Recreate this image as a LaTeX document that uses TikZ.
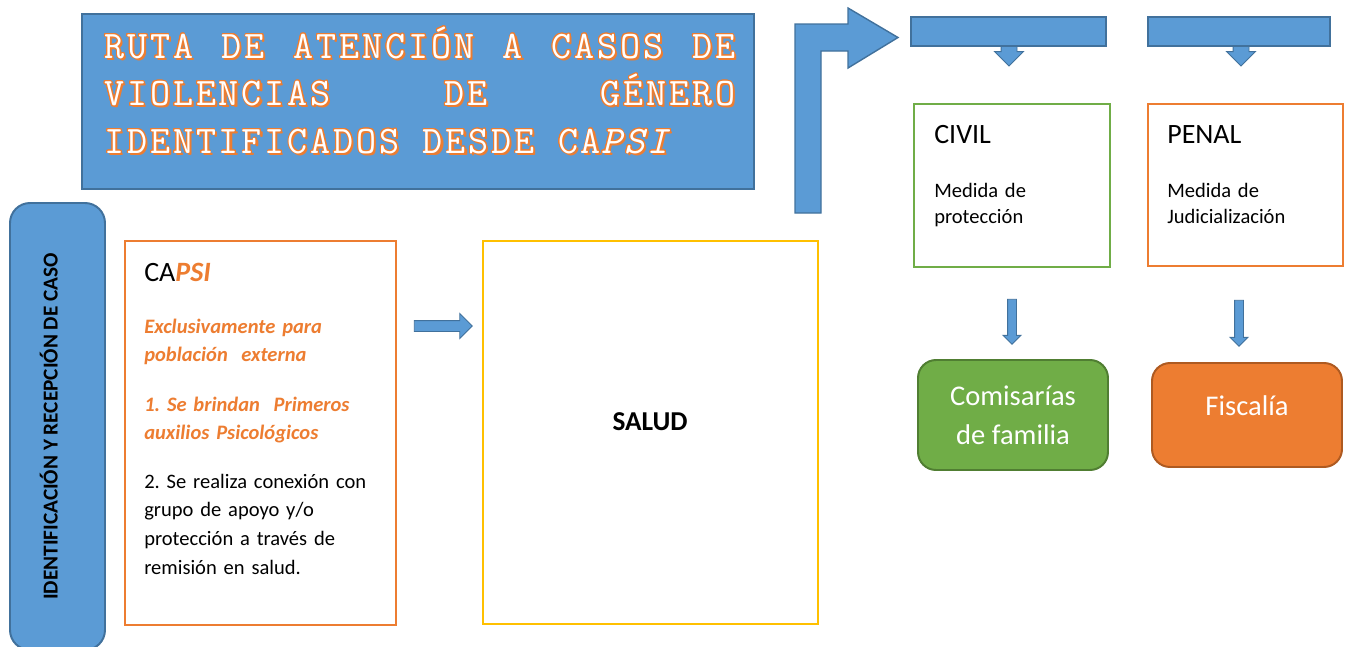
\documentclass[tikz,border=0pt]{standalone}
\usepackage{fontspec}
\setmainfont{Carlito}
\newfontfamily\monofam{Latin Modern Mono}[LetterSpace=7.4]
\usepackage[copies]{contour}
\usetikzlibrary{shapes.arrows,positioning}
\definecolor{bluehue}{RGB}{91, 155, 213}
\definecolor{blueedge}{RGB}{65, 113, 156}
\definecolor{orangehue}{RGB}{237, 125, 49}
\definecolor{orangeedge}{RGB}{174, 90, 33}
\definecolor{greenhue}{RGB}{112, 173, 71}
\definecolor{greenedge}{RGB}{80, 126, 50}
\definecolor{yellowhue}{RGB}{255, 192, 0}
\newlength{\pxu}
\setlength{\pxu}{0.025cm}
\contourlength{0.6pt}
\newcommand{\titleword}[1]{\hbox{\rlap{\kern1.5pt\lower1.5pt\hbox{\textcolor{orangehue}{#1}}}\contour{orangehue}{#1}}}
\newcommand{\titlegap}{\hspace*{23.3\pxu}}
\tikzset{
    bluebox/.style={draw=blueedge, fill=bluehue, line width=1.4pt},
    framebox/.style={draw=#1, fill=white, line width=1.4pt},
    roundbox/.style 2 args={draw=#2, fill=#1, line width=1.4pt, rounded corners=0.45cm, text=white, align=center, font=\fontsize{20.3pt}{27.7pt}\selectfont},
    sized/.style 2 args={minimum width=#1*\pxu, minimum height=#2*\pxu, inner sep=0pt},
    midbase/.style={text height=#1*\pxu, text depth=#1*\pxu},
    headtext/.style={font=\fontsize{19.9pt}{24pt}\selectfont, anchor=base west, inner sep=0pt},
    bodytext/.style={font=\fontsize{14.6pt}{20.4pt}\selectfont, anchor=base west, inner sep=0pt, align=left, text width=#1*\pxu},
    accenttext/.style={bodytext=#1, text=orangehue, font=\fontsize{14.6pt}{20.4pt}\selectfont\bfseries\itshape},
    blockarrow/.style={single arrow, draw=blueedge, fill=bluehue, line width=0.7pt, single arrow head indent=0pt},
    arrowsize/.style n args={3}{minimum height=#1*\pxu, inner sep=#2*\pxu, single arrow head extend=#3*\pxu},
    bendarrow/.style={draw=blueedge, fill=bluehue, line width=1pt},
}
\begin{document}
\frenchspacing
\begin{tikzpicture}[x=0.025cm, y=-0.025cm]
    \useasboundingbox (0,0) rectangle (1350,646);
    \node[bluebox, sized={672}{175}] (title) at (418,101.5) {};
    \node[
        anchor=base west,
        inner sep=0pt,
        text=white,
        align=left,
        text width=645*\pxu,
        font=\monofam\bfseries\fontsize{27.7pt}{33.8pt}\selectfont,
    ] (titletext) at (104,58) {
        \makebox[631\pxu][l]{\titleword{RUTA}\hfill\titleword{DE}\hfill\titleword{ATENCIÓN}\hfill\titleword{A}\hfill\titleword{CASOS}\hfill\titleword{DE}}\\
        \makebox[631\pxu][l]{\titleword{VIOLENCIAS}\hfill\titleword{DE}\hfill\titleword{GÉNERO}}\\
        \makebox[631\pxu][l]{\titleword{IDENTIFICADOS}\titlegap\titleword{DESDE}\titlegap\titleword{CA\textit{PSI}}}
    };
    \node[
        bluebox,
        sized={447}{95},
        rounded corners=0.5cm,
        rotate=90,
        midbase=10,
        font=\bfseries\fontsize{15.1pt}{17pt}\selectfont,
    ] (intake) at (57.5,426.5) {IDENTIFICACIÓN Y RECEPCIÓN DE CASO};
    \node[framebox=orangehue, sized={271}{384}] (capsi) at (260.5,433) {};
    \node[headtext] (capsihead) at (144,281) {CA\textcolor{orangehue}{\bfseries\itshape PSI}};
    \node[accenttext=240] (capsiscope) at (144,333) {Exclusivamente para\\población\ \ externa};
    \node[accenttext=240] (capsistep1) at (144,411) {1. Se brindan\ \ Primeros\\auxilios Psicológicos};
    \node[bodytext=240] (capsistep2) at (144,488) {2. Se realiza conexión con\\grupo de apoyo y/o\\protección a través de\\remisión en salud.};
    \node[blockarrow, arrowsize={58}{5}{7}] (tosalud) at (440.5,326) {};
    \node[framebox=yellowhue, sized={335}{383}] (salud) at (650.5,432.5) {};
    \node[font=\bfseries\fontsize{19.4pt}{22pt}\selectfont] (saludtext) at (650,422) {SALUD};
    \draw[bendarrow] (795,213) -- (795,24) -- (848,24) -- (848,8) -- (898,37.5)
        -- (848,68) -- (848,51) -- (821,51) -- (821,213) -- cycle;
    \node[blockarrow, arrowsize={32}{7.5}{6.5}, shape border rotate=270] (civilcue) at (1009,46) {};
    \node[blockarrow, arrowsize={32}{7.5}{6.5}, shape border rotate=270] (penalcue) at (1241,46) {};
    \node[bluebox, line width=1pt, sized={195}{29}] (civiltop) at (1008.5,31.5) {};
    \node[bluebox, line width=1pt, sized={182}{29}] (penaltop) at (1239,31.5) {};
    \node[framebox=greenhue, sized={196}{163}] (civil) at (1012,185.5) {};
    \node[headtext] (civilhead) at (934,143) {CIVIL};
    \node[bodytext=170, font=\fontsize{14.6pt}{18.5pt}\selectfont] (civilnote) at (934,197) {Medida de\\protección};
    \node[framebox=orangehue, sized={195}{162}] (penal) at (1245.5,185) {};
    \node[headtext] (penalhead) at (1167,143) {PENAL};
    \node[bodytext=170, font=\fontsize{14.6pt}{18.5pt}\selectfont] (penalnote) at (1167,197) {Medida de\\Judicialización};
    \node[blockarrow, arrowsize={45}{4}{4.5}, shape border rotate=270] (tocomisaria) at (1012,319.5) {};
    \node[blockarrow, arrowsize={46}{4}{4.5}, shape border rotate=270] (tofiscalia) at (1239,321) {};
    \node[roundbox={greenhue}{greenedge}, sized={190}{110}] (comisaria) at (1013,415) {Comisarías\\de familia};
    \node[roundbox={orangehue}{orangeedge}, sized={190}{104}, midbase=12] (fiscalia) at (1247,415) {Fiscalía};
\end{tikzpicture}
\end{document}
